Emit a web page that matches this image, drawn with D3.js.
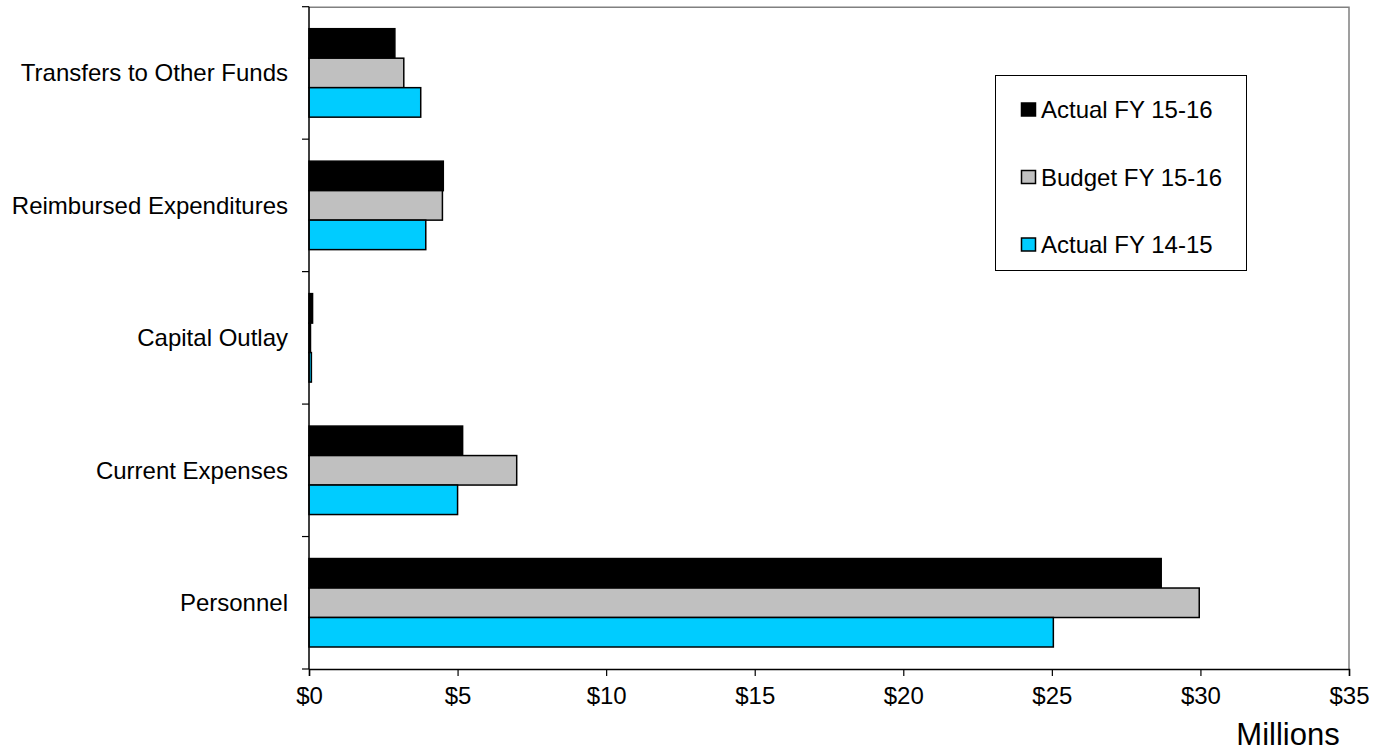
<!DOCTYPE html>
<html>
<head>
<meta charset="utf-8">
<script src="https://cdn.jsdelivr.net/npm/d3@7"></script>
<style>
  body { margin: 0; background: #fff; }
  svg { display: block; }
  text { font-family: "Liberation Sans", Arial, sans-serif; fill: #000; }
</style>
</head>
<body>
<div id="chart-area"></div>
<script>
// data, top to bottom as drawn
const categories = ['Transfers to Other Funds', 'Reimbursed Expenditures', 'Capital Outlay', 'Current Expenses', 'Personnel']
const seriesNames = ['Actual FY 15-16', 'Budget FY 15-16', 'Actual FY 14-15']
const actual1516 = [2.89, 4.52, 0.12, 5.17, 28.68]
const budget1516 = [3.19, 4.49, 0.05, 6.99, 29.96]
const actual1415 = [3.76, 3.93, 0.08, 5.00, 25.05]
const xTicks = [0, 5, 10, 15, 20, 25, 30, 35]

const seriesValues = [actual1516, budget1516, actual1415]
const colors = ['#000000', '#c0c0c0', '#00ccff']

const width = 1374
const height = 751
const margin = { top: 6.7, right: 25, bottom: 82, left: 309 }
const innerWidth = width - margin.left - margin.right
const innerHeight = height - margin.top - margin.bottom

const svg = d3.select('#chart-area')
  .append('svg')
    .attr('width', width)
    .attr('height', height)

const g = svg.append('g')
  .attr('transform', `translate(${margin.left}, ${margin.top})`)

const scaleX = d3.scaleLinear()
  .domain([0, 35])
  .range([0, innerWidth])

const scaleY = d3.scaleBand()
  .domain(categories)
  .range([0, innerHeight])

const scaleSeries = d3.scaleBand()
  .domain(seriesNames)
  .range([0, scaleY.bandwidth()])
  .paddingInner(0)
  .paddingOuter(0.746)

// plot area border (top and right)
g.append('path')
  .attr('d', `M0,0.5H${innerWidth}V${innerHeight}`)
  .attr('fill', 'none')
  .attr('stroke', '#808080')
  .attr('stroke-width', 1.5)

// bars
const rows = categories.map((c, i) => ({
  category: c,
  values: seriesNames.map((s, j) => ({ series: s, idx: j, value: seriesValues[j][i] }))
}))

const groups = g.selectAll('.row').data(rows).enter()
  .append('g')
    .attr('class', 'row')
    .attr('transform', d => `translate(0, ${scaleY(d.category)})`)

groups.selectAll('rect').data(d => d.values).enter()
  .append('rect')
    .attr('x', scaleX(0))
    .attr('y', d => scaleSeries(d.series))
    .attr('width', d => scaleX(d.value) - scaleX(0))
    .attr('height', scaleSeries.bandwidth())
    .attr('fill', d => colors[d.idx])
    .attr('stroke', '#000')
    .attr('stroke-width', 1.5)

// x axis
const xAxisCall = d3.axisBottom(scaleX)
  .tickValues(xTicks)
  .tickSize(7)
  .tickPadding(11)
  .tickFormat(d => `$${d}`)
const xAxis = g.append('g')
  .attr('transform', `translate(0, ${innerHeight})`)
  .call(xAxisCall)
xAxis.attr('font-family', null).attr('font-size', null)
xAxis.select('.domain').attr('stroke', '#000').attr('stroke-width', 1.5)
xAxis.selectAll('.tick line').attr('stroke', '#000').attr('stroke-width', 1.2)
xAxis.selectAll('text')
  .attr('fill', '#000')
  .style('font-size', '24px')

// y axis: ticks at band boundaries, labels centred in bands
const yEdges = categories.map(c => scaleY(c)).concat([innerHeight])
g.selectAll('.ytick').data(yEdges).enter()
  .append('line')
    .attr('class', 'ytick')
    .attr('x1', -7)
    .attr('x2', 0)
    .attr('y1', d => d)
    .attr('y2', d => d)
    .attr('stroke', '#000')
    .attr('stroke-width', 1.2)

g.append('line')
  .attr('x1', 0).attr('x2', 0)
  .attr('y1', 0).attr('y2', innerHeight)
  .attr('stroke', '#000')
  .attr('stroke-width', 1.5)

g.selectAll('.ylabel').data(categories).enter()
  .append('text')
    .attr('class', 'ylabel')
    .attr('x', -21)
    .attr('y', d => scaleY(d) + scaleY.bandwidth() / 2)
    .attr('dy', '0.35em')
    .attr('text-anchor', 'end')
    .style('font-size', '24px')
    .text(d => d)

// axis title
svg.append('text')
  .attr('x', 1288)
  .attr('y', 745)
  .attr('text-anchor', 'middle')
  .style('font-size', '31px')
  .text('Millions')

// legend
const legend = svg.append('g')
  .attr('transform', 'translate(995, 75)')

legend.append('rect')
  .attr('x', 0.5)
  .attr('y', 0.5)
  .attr('width', 251)
  .attr('height', 195)
  .attr('fill', '#fff')
  .attr('stroke', '#000')
  .attr('stroke-width', 1)

const items = legend.selectAll('.item').data(seriesNames).enter()
  .append('g')
    .attr('class', 'item')
    .attr('transform', (d, i) => `translate(0, ${35 + i * 67.5})`)

items.append('rect')
  .attr('x', 26.5)
  .attr('y', -7)
  .attr('width', 14)
  .attr('height', 13)
  .attr('fill', (d, i) => colors[i])
  .attr('stroke', '#000')
  .attr('stroke-width', 1.5)

items.append('text')
  .attr('x', 46)
  .attr('y', 0)
  .attr('dy', '0.35em')
  .style('font-size', '24px')
  .text(d => d)
</script>
</body>
</html>
